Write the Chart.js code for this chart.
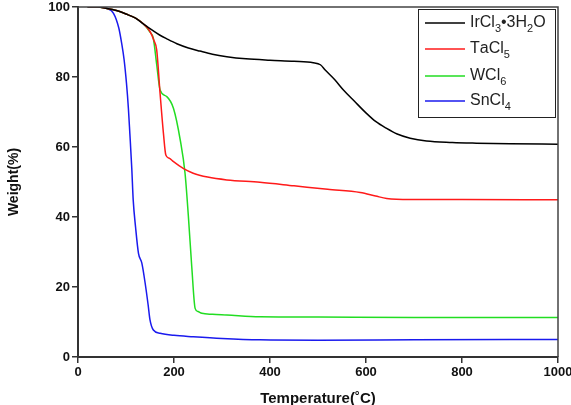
<!DOCTYPE html>
<html>
<head>
<meta charset="utf-8">
<script src="https://cdn.jsdelivr.net/npm/chart.js@4"></script>
<style>
  html, body { margin: 0; padding: 0; background: #fff; }
  #wrap { width: 571px; height: 405px; }
</style>
</head>
<body>
<div id="wrap"><canvas id="tgaChart" width="571" height="405"></canvas></div>
<script>
// TGA curves: temperature (°C) and weight (%)
const seriesNames = ['IrCl₃•3H₂O', 'TaCl₅', 'WCl₆', 'SnCl₄'];

const irTemp = [20, 40, 60, 80, 100, 120, 136, 150, 170, 185, 206, 230, 254, 280, 310, 350, 400, 450, 490, 505, 515, 535, 553, 575, 601, 620, 643, 665, 692, 726, 780, 830, 900, 1000];
const irWeight = [100, 100, 99.6, 99.0, 98.0, 96.8, 95.2, 93.8, 92.0, 90.9, 89.5, 88.3, 87.4, 86.5, 85.8, 85.2, 84.8, 84.5, 84.1, 83.5, 82.0, 79.2, 76.3, 73.2, 69.6, 67.3, 65.3, 63.7, 62.5, 61.7, 61.3, 61.1, 60.9, 60.8];

const taTemp = [20, 40, 60, 80, 100, 120, 136, 150, 158, 164, 171, 178, 183, 190, 199, 220, 240, 270, 310, 379, 450, 520, 588, 620, 643, 692, 800, 1000];
const taWeight = [100, 100, 99.6, 99.0, 98.0, 96.8, 95.2, 93.0, 90.5, 87.7, 75.3, 63.9, 57.7, 56.8, 55.8, 53.8, 52.5, 51.4, 50.6, 49.9, 48.9, 47.9, 47.0, 46.0, 45.3, 45.0, 45.0, 44.9];

const wTemp = [20, 40, 60, 80, 100, 120, 136, 150, 157, 164, 171, 185, 199, 213, 223, 230, 237, 244, 250, 258, 280, 310, 379, 500, 700, 1000];
const wWeight = [100, 100, 99.6, 99.0, 98.0, 96.8, 95.2, 92.8, 91.0, 83.5, 76.3, 74.4, 71.0, 62.0, 52.5, 40.1, 25.8, 13.9, 13.0, 12.5, 12.2, 12.0, 11.5, 11.4, 11.3, 11.3];

const snTemp = [20, 50, 60, 74, 85, 91, 96, 101, 105, 108, 112, 115, 120, 126, 133, 140, 146, 150, 157, 171, 200, 240, 300, 379, 500, 700, 1000];
const snWeight = [100, 100, 99.6, 98.2, 94.0, 89.6, 85.0, 78.2, 71.0, 63.9, 54.0, 44.9, 37.0, 29.6, 26.8, 21.0, 15.0, 10.6, 7.7, 6.8, 6.2, 5.8, 5.3, 4.9, 4.8, 4.9, 5.0];

const xTicks = [0, 200, 400, 600, 800, 1000];
const yTicks = [0, 20, 40, 60, 80, 100];

const lineColors = ['#000000', '#ff1a1a', '#22dd22', '#1a1aee'];

function toPoints(xs, ys) {
    return xs.map((x, i) => ({ x: x, y: ys[i] }));
}

const allData = [
    toPoints(irTemp, irWeight),
    toPoints(taTemp, taWeight),
    toPoints(wTemp, wWeight),
    toPoints(snTemp, snWeight)
];

// draws the top/right border of the frame
const framePlugin = {
    id: 'frame',
    afterDraw(chart) {
        const ctx = chart.ctx;
        const a = chart.chartArea;
        ctx.save();
        ctx.strokeStyle = '#444';
        ctx.lineWidth = 1.5;
        ctx.beginPath();
        ctx.moveTo(a.left, a.top);
        ctx.lineTo(a.right, a.top);
        ctx.lineTo(a.right, a.bottom);
        ctx.stroke();
        ctx.restore();
    }
};

// boxed legend with subscripts
const subMap = { '₀': '0', '₁': '1', '₂': '2', '₃': '3', '₄': '4', '₅': '5', '₆': '6', '₇': '7', '₈': '8', '₉': '9' };

const legendPlugin = {
    id: 'boxLegend',
    afterDraw(chart) {
        const ctx = chart.ctx;
        const bx = 418, by = 9, bw = 137, bh = 108;
        ctx.save();
        ctx.fillStyle = '#fff';
        ctx.fillRect(bx, by, bw, bh);
        ctx.strokeStyle = '#222';
        ctx.lineWidth = 1;
        ctx.strokeRect(bx + 0.5, by + 0.5, bw, bh);
        const rows = [23, 49, 76, 101];
        chart.data.datasets.forEach((ds, i) => {
            const y = rows[i];
            ctx.strokeStyle = ds.borderColor;
            ctx.lineWidth = 1.5;
            ctx.beginPath();
            ctx.moveTo(425, y);
            ctx.lineTo(465, y);
            ctx.stroke();
            let x = 470;
            ctx.fillStyle = '#222';
            ctx.textBaseline = 'middle';
            for (const ch of ds.label) {
                if (subMap[ch]) {
                    ctx.font = '11px "Liberation Sans", Arial, sans-serif';
                    ctx.fillText(subMap[ch], x, y + 6);
                    x += ctx.measureText(subMap[ch]).width;
                } else {
                    ctx.font = '16px "Liberation Sans", Arial, sans-serif';
                    ctx.fillText(ch, x, y);
                    x += ctx.measureText(ch).width;
                }
            }
        });
        ctx.restore();
    }
};

const ctx = document.getElementById('tgaChart').getContext('2d');
new Chart(ctx, {
    type: 'line',
    data: {
        datasets: seriesNames.map((name, i) => ({
            label: name,
            data: allData[i],
            borderColor: lineColors[i],
            backgroundColor: lineColors[i],
            borderWidth: 1.5,
            pointRadius: 0,
            cubicInterpolationMode: 'monotone',
            fill: false
        }))
    },
    options: {
        responsive: false,
        animation: false,
        layout: { padding: { top: 7, right: 13, left: 0, bottom: 0 } },
        plugins: {
            legend: { display: false },
            tooltip: { enabled: false }
        },
        scales: {
            x: {
                type: 'linear',
                min: 0,
                max: 1000,
                afterFit(scale) {
                    scale.height = 48;
                    scale.paddingLeft = 0;
                    scale.paddingRight = 0;
                },
                afterBuildTicks(scale) {
                    scale.ticks = xTicks.map(v => ({ value: v }));
                },
                border: { color: '#333', width: 2 },
                grid: { drawOnChartArea: false, drawTicks: true, tickLength: 6, color: '#333', lineWidth: 1.5 },
                ticks: {
                    color: '#111',
                    padding: 2,
                    maxRotation: 0,
                    callback: v => String(v),
                    font: { family: '"Liberation Sans", Arial, sans-serif', size: 13, weight: 'bold' }
                },
                title: {
                    display: true,
                    text: 'Temperature(˚C)',
                    color: '#111',
                    padding: { top: 0, bottom: -3 },
                    font: { family: '"Liberation Sans", Arial, sans-serif', size: 15, weight: 'bold' }
                }
            },
            y: {
                type: 'linear',
                min: 0,
                max: 100,
                afterFit(scale) {
                    scale.width = 78;
                    scale.paddingTop = 0;
                    scale.paddingBottom = 0;
                },
                afterBuildTicks(scale) {
                    scale.ticks = yTicks.map(v => ({ value: v }));
                },
                border: { color: '#333', width: 2 },
                grid: { drawOnChartArea: false, drawTicks: true, tickLength: 6, color: '#333', lineWidth: 1.5 },
                ticks: {
                    color: '#111',
                    padding: 2,
                    callback: v => String(v),
                    font: { family: '"Liberation Sans", Arial, sans-serif', size: 13, weight: 'bold' }
                },
                title: {
                    display: true,
                    text: 'Weight(%)',
                    color: '#111',
                    padding: { top: 6, bottom: 0 },
                    font: { family: '"Liberation Sans", Arial, sans-serif', size: 14, weight: 'bold' }
                }
            }
        }
    },
    plugins: [framePlugin, legendPlugin]
});
</script>
</body>
</html>
